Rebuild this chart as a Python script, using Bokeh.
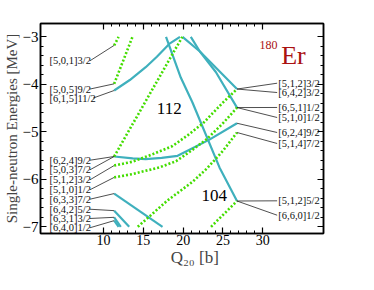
from bokeh.plotting import figure
from bokeh.models import Range1d, LinearAxis, Label, FixedTicker, CustomJSTickFormatter
from bokeh.embed import file_html
from bokeh.resources import INLINE
from bokeh.core.properties import value

# ---------------- data ----------------
# positive-parity levels (N=6), solid cyan
q_615 = [11.34, 13.3, 15.3, 16.7, 18.25, 19.6]
e_615 = [-4.13, -3.91, -3.64, -3.42, -3.15, -3.0]
q_624 = [11.34, 13.66, 15.3, 17.3, 19.3, 23.3, 26.76]
e_624 = [-5.52, -5.56, -5.575, -5.55, -5.505, -5.165, -4.82]
q_633 = [11.34, 17.41]
e_633 = [-6.30, -7.0]
q_642 = [11.34, 13.23]
e_642 = [-6.66, -7.0]
q_631 = [11.34, 12.17]
e_631 = [-6.80, -7.0]
q_640 = [11.34, 11.9]
e_640 = [-6.87, -7.0]
q_660 = [17.85, 19.7, 21.17, 24.56, 26.76]
e_660 = [-3.0, -3.857, -4.383, -5.75, -6.457]
q_642r = [19.92, 22.1, 26.76]
e_642r = [-3.0, -3.31, -4.10]
q_651 = [20.96, 22.1, 24.1, 26.76]
e_651 = [-3.0, -3.31, -3.74, -4.49]

# negative-parity levels (N=5), dotted green
q_501 = [11.34, 11.9]
e_501 = [-3.18, -3.0]
q_505 = [11.34, 13.64]
e_505 = [-3.99, -3.0]
q_503 = [11.34, 19.9]
e_503 = [-5.52, -3.0]
q_512 = [11.34, 13.64, 16.2, 18.66, 20.6, 22.5, 24.9, 26.76]
e_512 = [-5.71, -5.63, -5.47, -5.30, -5.07, -4.82, -4.40, -4.10]
q_510 = [11.34, 13.64, 17.0, 19.1, 21.0, 23.0, 25.0, 26.76]
e_510 = [-5.96, -5.89, -5.75, -5.62, -5.40, -5.15, -4.82, -4.49]
q_514 = [14.3, 18.0, 21.2, 23.0, 25.0, 26.76]
e_514 = [-7.0, -6.45, -6.05, -5.77, -5.40, -5.015]
q_512b = [23.5, 26.76]
e_512b = [-7.0, -6.457]

# Nilsson labels
left_labels = ["[5,0,1]3/2", "[5,0,5]9/2", "[6,1,5]11/2", "[6,2,4]9/2", "[5,0,3]7/2",
               "[5,1,2]3/2", "[5,1,0]1/2", "[6,3,3]7/2", "[6,4,2]5/2", "[6,3,1]3/2",
               "[6,4,0]1/2"]
right_labels = ["[5,1,2]3/2", "[6,4,2]3/2", "[6,5,1]1/2", "[5,1,0]1/2", "[6,2,4]9/2",
                "[5,1,4]7/2", "[5,1,2]5/2", "[6,6,0]1/2"]

x_ticks = [10, 15, 20, 25, 30]
y_ticks = [-7, -6, -5, -4, -3]
gap_numbers = ["112", "104"]

# ---------------- layout / style ----------------
FONT = "Liberation Serif"
CYAN = "#3fb0bd"
GREEN = "#44dd00"

cyan_curves = [(q_615, e_615), (q_624, e_624), (q_633, e_633), (q_642, e_642),
               (q_631, e_631), (q_640, e_640), (q_660, e_660), (q_642r, e_642r),
               (q_651, e_651)]
green_curves = [(q_501, e_501), (q_505, e_505), (q_503, e_503), (q_512, e_512),
                (q_510, e_510), (q_514, e_514), (q_512b, e_512b)]

left_targets = [(q_501, e_501), (q_505, e_505), (q_615, e_615), (q_624, e_624),
                (q_503, e_503), (q_512, e_512), (q_510, e_510), (q_633, e_633),
                (q_642, e_642), (q_631, e_631), (q_640, e_640)]
right_targets = [(q_512, e_512), (q_642r, e_642r), (q_651, e_651), (q_510, e_510),
                 (q_624, e_624), (q_514, e_514), (q_512b, e_512b), (q_660, e_660)]

left_text_x = 3.22
left_text_y = [-3.505, -4.10, -4.29, -5.598, -5.80, -6.011, -6.22, -6.419, -6.63, -6.825, -7.02]
left_text_end = [8.3, 8.3, 8.7, 8.3, 8.3, 8.3, 8.3, 8.3, 8.3, 8.3, 8.3]
right_text_x = 31.95
right_text_y = [-3.977, -4.173, -4.488, -4.699, -5.015, -5.246, -6.453, -6.756]

p = figure(width=358, height=274, x_range=Range1d(2.09, 37.62), y_range=Range1d(-7.141, -2.72),
           output_backend="svg", toolbar_location=None,
           min_border_left=40, min_border_right=35, min_border_top=23, min_border_bottom=41)
p.grid.visible = False
p.outline_line_color = "black"
p.outline_line_width = 1.5

bottom = p.below[0]
left = p.left[0]

xt = FixedTicker(ticks=x_ticks, minor_ticks=list(range(10, 31)))
yt = FixedTicker(ticks=y_ticks, minor_ticks=[-7 + 0.2 * i for i in range(21)])

top = LinearAxis(ticker=xt, formatter=CustomJSTickFormatter(code="return ''"))
right = LinearAxis(ticker=yt, formatter=CustomJSTickFormatter(code="return ''"))
p.add_layout(top, "above")
p.add_layout(right, "right")
bottom.ticker = xt
left.ticker = yt

for ax in [bottom, left, top, right]:
    ax.major_tick_in = 6
    ax.major_tick_out = 0
    ax.minor_tick_in = 3
    ax.minor_tick_out = 0
    ax.axis_line_width = 1.5
    ax.major_tick_line_width = 1.2
    ax.minor_tick_line_width = 1
    ax.major_label_text_font = FONT
    ax.major_label_text_font_size = "15px"
    ax.major_label_text_color = "black"

for ax in [top, right]:
    ax.major_label_text_font_size = "1px"
    ax.major_label_standoff = 0

bottom.major_label_text_font_size = "14px"
bottom.major_label_standoff = 1
left.major_label_standoff = 2
left.axis_label = "Single-neutron Energies [MeV]"
left.axis_label_text_font = FONT
left.axis_label_text_font_size = "15px"
left.axis_label_text_font_style = "normal"
left.axis_label_standoff = 0

bottom.axis_label = "\u00a0\u00a0\u00a0\u00a0\u00a0\u00a0Q\u2082\u2080 [b]"
bottom.axis_label_text_font = FONT
bottom.axis_label_text_font_size = "17px"
bottom.axis_label_text_font_style = "normal"
bottom.axis_label_standoff = 0

# curves
for q, e in cyan_curves:
    p.line(q, e, line_color=CYAN, line_width=2.2)
for q, e in green_curves:
    p.line(q, e, line_color=GREEN, line_width=2.6, line_dash="2 2")

# pointer lines
x0, y0, x1, y1 = [], [], [], []
for (q, e), ty, tx in zip(left_targets, left_text_y, left_text_end):
    x0.append(tx); y0.append(ty); x1.append(q[0]); y1.append(e[0])
for (q, e), ty in zip(right_targets, right_text_y):
    x0.append(right_text_x - 0.15); y0.append(ty); x1.append(q[-1]); y1.append(e[-1])
p.segment(x0, y0, x1, y1, line_color="#222222", line_width=0.8)

p.text([left_text_x] * len(left_labels), left_text_y, text=left_labels,
       text_font=value(FONT), text_font_size="10.5px", text_baseline="middle",
       text_align="left", text_color="#111111")
p.text([right_text_x] * len(right_labels), right_text_y, text=right_labels,
       text_font=value(FONT), text_font_size="10.5px", text_baseline="middle",
       text_align="left", text_color="#111111")

p.text([18.25, 23.9], [-4.516, -6.335], text=gap_numbers, text_font=value(FONT),
       text_font_size="17px", text_baseline="middle", text_align="center",
       text_color="black")

# nucleus label
p.add_layout(Label(x=31.85, y=-3.183, text="180", text_font=FONT, text_font_size="12px",
                   text_color="#aa1111", text_align="right", text_baseline="alphabetic"))
p.add_layout(Label(x=32.3, y=-3.394, text="Er", text_font=FONT, text_font_size="26px",
                   text_color="#aa1111", text_align="left", text_baseline="alphabetic"))

open("out.html", "w").write(file_html(p, INLINE))
